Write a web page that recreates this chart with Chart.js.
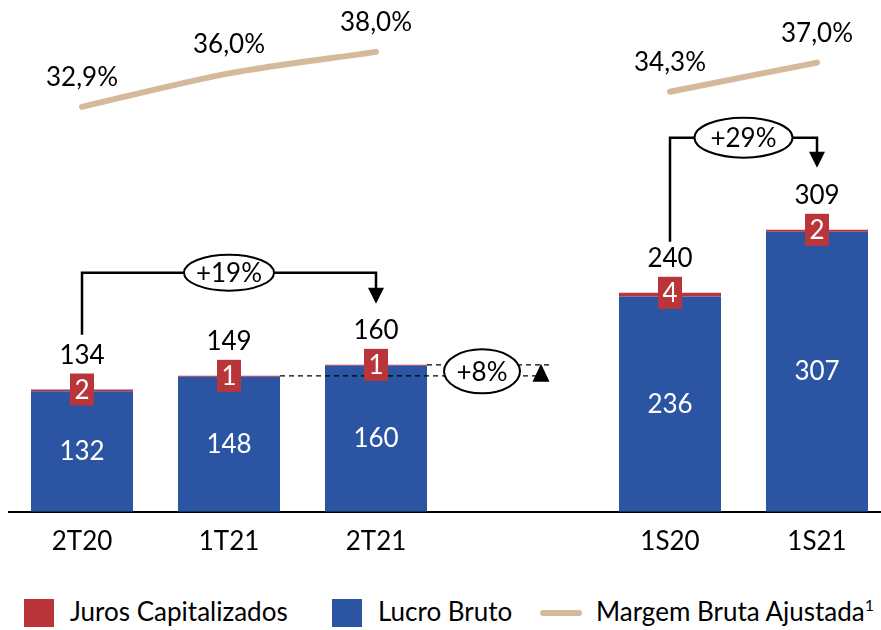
<!DOCTYPE html>
<html>
<head>
<meta charset="utf-8">
<script src="https://cdn.jsdelivr.net/npm/chart.js@4"></script>
<style>
  html, body { margin: 0; padding: 0; background: #fff; overflow: hidden; }
  #wrap { position: absolute; left: 0; top: 0; width: 900px; height: 575px; }
  .key { position: absolute; top: 599px; width: 30px; height: 28px; }
  .lbl { position: absolute; top: 596px; font: 26px Lato, sans-serif; line-height: 30px; color: #000; white-space: nowrap; }
  .lbl sup { font-size: 16px; line-height: 0; }
  .lineKey { position: absolute; left: 540px; top: 610px; width: 42px; height: 6px; border-radius: 3px; background: #D4B99B; }
</style>
</head>
<body>
<div id="wrap"><canvas id="chart"></canvas></div>
<span class="key" style="left:24px;background:#B9353A"></span>
<span class="lbl" style="left:70px">Juros Capitalizados</span>
<span class="key" style="left:332px;background:#2B55A3"></span>
<span class="lbl" style="left:378px">Lucro Bruto</span>
<span class="lineKey"></span>
<span class="lbl" style="left:596px">Margem Bruta Ajustada<sup>1</sup></span>
<script>
// Data
const categories = ['2T20', '1T21', '2T21', '', '1S20', '1S21'];
const lucroBruto = [132, 148, 160, null, 236, 307];
const jurosCapitalizados = [2, 1, 1, null, 4, 2];
const totals = [134, 149, 160, null, 240, 309];
const margemBruta = [32.9, 36.0, 38.0, null, 34.3, 37.0];
const growth = ['+19%', '+29%', '+8%'];

const BLUE = '#2B55A3';
const RED = '#B9353A';
const TAN = '#D4B99B';
const FONT = 'Lato, sans-serif';

function ellipseLabel(ctx, cx, cy, rx, ry, text) {
  ctx.save();
  ctx.beginPath();
  ctx.ellipse(cx, cy, rx, ry, 0, 0, Math.PI * 2);
  ctx.fillStyle = '#fff';
  ctx.fill();
  ctx.lineWidth = 2;
  ctx.strokeStyle = '#000';
  ctx.stroke();
  ctx.fillStyle = '#000';
  ctx.font = '26px ' + FONT;
  ctx.textAlign = 'center';
  ctx.textBaseline = 'middle';
  ctx.fillText(text, cx, cy + 1);
  ctx.restore();
}

function triangle(ctx, x, tipY, baseY, w) {
  ctx.beginPath();
  ctx.moveTo(x, tipY);
  ctx.lineTo(x - w / 2, baseY);
  ctx.lineTo(x + w / 2, baseY);
  ctx.closePath();
  ctx.fillStyle = '#000';
  ctx.fill();
}

// bracket with a drop on the left and an arrow on the right
function bracket(ctx, x1, x2, yTop, yLeft, yTip, label, rx, ry) {
  ctx.save();
  ctx.strokeStyle = '#000';
  ctx.lineWidth = 2.5;
  ctx.beginPath();
  ctx.moveTo(x1, yLeft);
  ctx.lineTo(x1, yTop);
  ctx.lineTo(x2, yTop);
  ctx.lineTo(x2, yTip - 15);
  ctx.stroke();
  triangle(ctx, x2, yTip, yTip - 16, 16);
  ctx.restore();
  ellipseLabel(ctx, (x1 + x2) / 2, yTop, rx, ry, label);
}

const annotations = {
  id: 'annotations',
  afterDatasetsDraw(chart) {
    const { ctx, scales: { x, y } } = chart;
    const blue = chart.getDatasetMeta(1).data;
    const red = chart.getDatasetMeta(2).data;

    // +8% dashed comparison between 1T21 and 2T21
    const gapX = x.getPixelForValue(3);
    const hi = red[2].y;
    const lo = red[1].y;
    ctx.save();
    ctx.setLineDash([5, 4]);
    ctx.lineWidth = 1.3;
    ctx.strokeStyle = '#000';
    ctx.beginPath();
    ctx.moveTo(blue[2].x + blue[2].width / 2, hi);
    ctx.lineTo(gapX + 27, hi);
    ctx.moveTo(blue[1].x + blue[1].width / 2, lo);
    ctx.lineTo(gapX + 27, lo);
    ctx.stroke();
    ctx.restore();
    triangle(ctx, gapX + 18, hi - 1, lo + 6, 17);
    ellipseLabel(ctx, gapX - 41, (hi + lo) / 2 + 1, 38, 22, growth[2]);

    // growth brackets
    bracket(ctx, x.getPixelForValue(0), x.getPixelForValue(2),
      y.getPixelForValue(262), y.getPixelForValue(194), y.getPixelForValue(228), growth[0], 45, 18);
    bracket(ctx, x.getPixelForValue(4), x.getPixelForValue(5),
      y.getPixelForValue(410), y.getPixelForValue(296), y.getPixelForValue(377), growth[1], 49, 20);

    ctx.save();
    ctx.textAlign = 'center';
    ctx.textBaseline = 'middle';
    ctx.font = '26px ' + FONT;
    categories.forEach((c, i) => {
      if (lucroBruto[i] == null) return;
      const b = blue[i];
      const r = red[i];
      // value inside the blue bar
      ctx.fillStyle = '#fff';
      ctx.fillText(String(lucroBruto[i]), b.x, (b.y + b.base) / 2);
      // red box for capitalised interest
      ctx.fillStyle = RED;
      ctx.fillRect(r.x - 12, r.y - 16, 24, 32);
      ctx.fillStyle = '#fff';
      ctx.fillText(String(jurosCapitalizados[i]), r.x, r.y + 1);
      // total above
      ctx.fillStyle = '#000';
      ctx.fillText(String(totals[i]), r.x, r.y - 34);
    });
    // margin labels
    chart.getDatasetMeta(0).data.forEach((p, i) => {
      if (margemBruta[i] == null) return;
      ctx.fillText(margemBruta[i].toFixed(1).replace('.', ',') + '%', p.x, p.y - 29);
    });
    ctx.restore();
  }
};

new Chart(document.getElementById('chart'), {
  data: {
    labels: categories,
    datasets: [{
      type: 'line',
      label: 'Margem Bruta Ajustada¹',
      data: margemBruta,
      yAxisID: 'y2',
      borderColor: TAN,
      borderWidth: 6,
      borderCapStyle: 'round',
      pointRadius: 0,
      tension: 0.3,
      spanGaps: false
    }, {
      type: 'bar',
      label: 'Lucro Bruto',
      data: lucroBruto,
      backgroundColor: BLUE,
      stack: 'lb'
    }, {
      type: 'bar',
      label: 'Juros Capitalizados',
      data: jurosCapitalizados,
      backgroundColor: RED,
      stack: 'lb'
    }]
  },
  options: {
    responsive: true,
    maintainAspectRatio: false,
    animation: false,
    barPercentage: 0.694,
    categoryPercentage: 1,
    layout: {
      padding: { left: 8.5, right: 9.5, top: 19, bottom: 4 }
    },
    scales: {
      x: {
        stacked: true,
        grid: { display: false, drawTicks: false },
        border: { color: '#000', width: 2 },
        ticks: { color: '#000', padding: 14, font: { family: FONT, size: 26 } }
      },
      y: { stacked: true, display: false, min: 0, max: 540 },
      y2: { display: false, min: -4.69, max: 41.05 }
    },
    plugins: {
      legend: { display: false },
      tooltip: { enabled: false }
    }
  },
  plugins: [annotations]
});
</script>
</body>
</html>
